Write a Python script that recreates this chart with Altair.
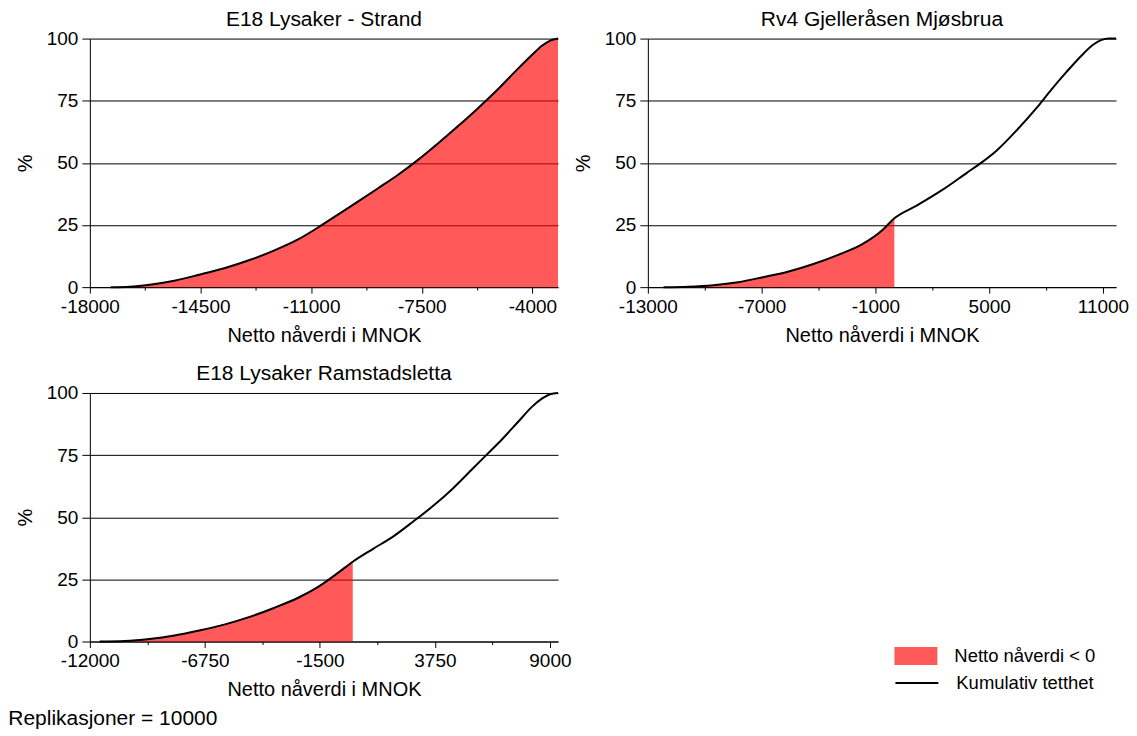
import altair as alt
import pandas as pd

FONT = "Liberation Sans"

# Panel 1: E18 Lysaker - Strand
p1_x = [-17340, -16740, -16110, -15330, -14540, -13750, -12970, -12180, -11400,
        -10770, -10140, -9510, -8880, -8250, -7620, -6990, -6360, -5730, -5100,
        -4480, -4000, -3690, -3440, -3190]
p1_y = [0, 0.2, 1.0, 2.6, 5.0, 7.6, 10.8, 14.7, 19.3, 24.1, 29.3, 34.5, 39.8,
        45.2, 51.2, 57.8, 64.7, 71.9, 79.5, 87.6, 93.6, 97.2, 99.2, 100]

# Panel 2: Rv4 Gjelleråsen Mjøsbrua
p2_x = [-12180, -10870, -9550, -8240, -6930, -5620, -4310, -3000, -1690, -640,
        0, 1200, 2510, 3820, 4610, 5400, 6440, 7490, 8280, 9070, 9850, 10480,
        10900, 11320, 11690]
p2_y = [0, 0.2, 0.8, 2.0, 4.0, 6.2, 9.2, 12.9, 17.3, 22.9, 27.7, 32.9, 39.0,
        46.0, 50.2, 55.0, 63.0, 72.0, 79.5, 86.5, 93.0, 97.5, 99.4, 100, 100]

# Panel 3: E18 Lysaker Ramstadsletta
p3_x = [-11550, -10410, -9280, -8140, -7010, -5870, -4740, -3600, -2470, -1560,
        -660, 0, 930, 1840, 2750, 3660, 4560, 5470, 6150, 6830, 7510, 8190,
        8650, 9010, 9370]
p3_y = [0, 0.2, 1.0, 2.4, 4.4, 6.8, 9.8, 13.5, 17.7, 22.1, 27.7, 32.1, 37.3,
        42.2, 48.2, 54.5, 61.5, 69.5, 75.5, 81.5, 88.0, 94.5, 97.8, 99.5, 100]

titles = ["E18 Lysaker - Strand", "Rv4 Gjelleråsen Mjøsbrua", "E18 Lysaker Ramstadsletta"]
x_starts = [-18000, -13000, -12000]
x_steps = [3500, 6000, 5250]
y_ticks = [0, 25, 50, 75, 100]
x_title = "Netto nåverdi i MNOK"
y_title = "%"
leg_area = "Netto nåverdi < 0"
leg_line = "Kumulativ tetthet"
footer = "Replikasjoner = 10000"

W, H = 469, 249


def panel(title, xs, ys, x0, step, with_legend=False):
    df = pd.DataFrame({"v": xs, "p": ys})
    df["a"] = leg_area
    df["l"] = leg_line
    area_df = df[df["v"] <= 0]
    xmax = max(xs)
    half = step / 2
    ticks = []
    t = x0
    while t <= xmax + 1e-9:
        ticks.append(t)
        t += half
    major_test = f"(datum.value - ({x0})) % {step} == 0"
    xaxis = alt.Axis(
        values=ticks,
        labelExpr=f"{major_test} ? '' + datum.value : ''",
        tickSize={"condition": {"test": major_test, "value": 6}, "value": 3},
        title=x_title, grid=False, labelFontSize=19, titleFontSize=20,
        labelFont=FONT, titleFont=FONT, labelColor="black", titleColor="black",
        domainColor="black", tickColor="black", titleFontWeight="normal",
        labelPadding=4, titlePadding=9, labelFlush=False, labelOverlap=False,
    )
    yaxis = alt.Axis(
        values=y_ticks, title=y_title, grid=True, gridColor="black", gridWidth=1,
        tickSize=8, labelFontSize=19, titleFontSize=20, labelFont=FONT,
        titleFont=FONT, labelColor="black", titleColor="black",
        domainColor="black", tickColor="black", titleFontWeight="normal",
        labelPadding=4, titlePadding=11,
    )
    xs_scale = alt.Scale(domain=[x0, xmax], nice=False, zero=False)
    ys_scale = alt.Scale(domain=[0, 100], nice=False)
    xenc = alt.X("v:Q", scale=xs_scale, axis=xaxis)
    yenc = alt.Y("p:Q", scale=ys_scale, axis=yaxis)
    if with_legend:
        area = alt.Chart(area_df).mark_area(fillOpacity=0.65, strokeWidth=0,
                                            interpolate="monotone").encode(
            x=xenc, y=yenc,
            fill=alt.Fill("a:N", scale=alt.Scale(domain=[leg_area], range=["#ff0000"]),
                          legend=alt.Legend(
                              title=None, orient="none", legendX=806, legendY=242,
                              padding=0, labelFontSize=18.5, labelFont=FONT,
                              labelColor="black", labelOffset=17,
                              symbolType="M-1,-0.42H1V0.42H-1Z", symbolSize=1849,
                              symbolOpacity=0.65, symbolStrokeWidth=0)),
        )
        line = alt.Chart(df).mark_line(strokeWidth=2, interpolate="monotone").encode(
            x=xenc, y=yenc,
            stroke=alt.Stroke("l:N", scale=alt.Scale(domain=[leg_line], range=["black"]),
                              legend=alt.Legend(
                                  title=None, orient="none", legendX=806, legendY=268,
                                  padding=0, labelFontSize=18.5, labelFont=FONT,
                                  labelColor="black", labelOffset=17,
                                  symbolType="stroke", symbolSize=1849,
                                  symbolStrokeWidth=2)),
        )
    else:
        area = alt.Chart(area_df).mark_area(color="#ff0000", fillOpacity=0.65,
                                            strokeWidth=0, interpolate="monotone"
                                            ).encode(x=xenc, y=yenc)
        line = alt.Chart(df).mark_line(color="black", strokeWidth=2,
                                       interpolate="monotone").encode(x=xenc, y=yenc)
    return alt.layer(area, line).properties(
        width=W, height=H,
        title=alt.TitleParams(title, fontSize=21, font=FONT, fontWeight="normal",
                              color="black", anchor="middle", offset=0),
    )


c1 = panel(titles[0], p1_x, p1_y, x_starts[0], x_steps[0])
c2 = panel(titles[1], p2_x, p2_y, x_starts[1], x_steps[1])
c3 = panel(titles[2], p3_x, p3_y, x_starts[2], x_steps[2], with_legend=True)

top = alt.hconcat(c1, c2, spacing=11)
bottom = alt.hconcat(c3, spacing=11)

chart = alt.vconcat(top, bottom, spacing=18).resolve_scale(
    fill="independent", stroke="independent"
).properties(
    padding={"left": 0, "top": 0, "right": 0, "bottom": 0},
    title=alt.TitleParams(footer, orient="bottom", anchor="start", fontSize=21,
                          font=FONT, fontWeight="normal", color="black", offset=9,
                          dx=-7),
).configure_view(strokeWidth=0).configure_concat(spacing=11)

chart.save("out.html", embed_options={"renderer": "svg", "actions": False})
